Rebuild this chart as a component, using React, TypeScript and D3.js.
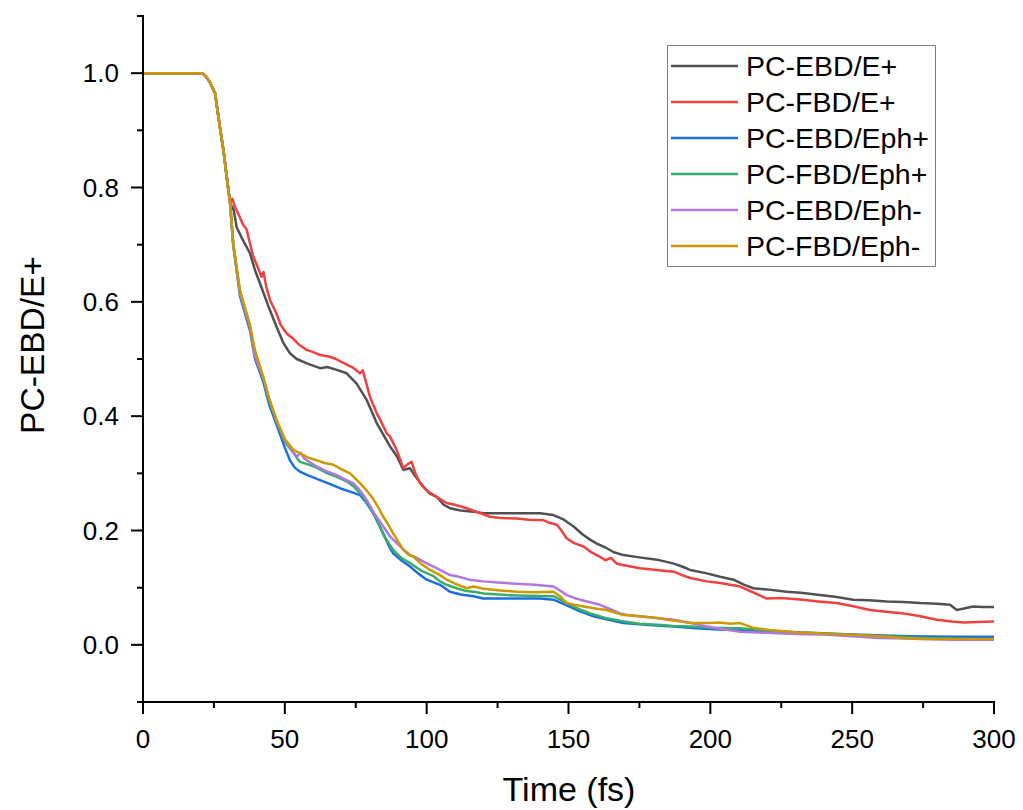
import React from "react";
import * as d3 from "d3";

const seriesNames = ["PC-EBD/E+", "PC-FBD/E+", "PC-EBD/Eph+", "PC-FBD/Eph+", "PC-EBD/Eph-", "PC-FBD/Eph-"];
const seriesColors = ["#515151", "#F14040", "#1A6FDF", "#37AD6B", "#B177DE", "#CC9900"];

const xTicks = [0, 50, 100, 150, 200, 250, 300];
const yTicks = [0.0, 0.2, 0.4, 0.6, 0.8, 1.0];

const commonStart: [number, number][] = [
  [0, 1], [21, 1], [22, 0.995], [23.5, 0.985], [25.4, 0.965], [27.1, 0.906], [28.5, 0.86], [29.5, 0.819], [30.7, 0.773],
];

const blackData: [number, number][] = [
  [32, 0.76], [33, 0.731], [35, 0.71], [37.7, 0.685], [39.5, 0.655], [41.2, 0.633], [44, 0.595], [47.1, 0.556], [49.5, 0.528],
  [51.8, 0.51], [54.2, 0.5], [58, 0.492], [62.4, 0.484], [65, 0.486], [68.3, 0.481], [71.8, 0.475], [75.3, 0.457], [78.9, 0.428],
  [82.4, 0.388], [85, 0.365], [87.1, 0.347], [89.5, 0.33], [91.8, 0.306], [94.1, 0.309], [96, 0.295], [98.8, 0.277], [101, 0.265],
  [103.5, 0.259], [106, 0.245], [108.2, 0.239], [112, 0.235], [116.5, 0.233], [120, 0.23], [130, 0.23], [140, 0.23], [144.7, 0.227],
  [148, 0.22], [151.8, 0.207], [155, 0.193], [157.6, 0.184], [160, 0.177], [163.5, 0.169], [166, 0.162], [169.4, 0.157], [175, 0.153],
  [181.2, 0.149], [187.1, 0.142], [190, 0.137], [192.9, 0.131], [198.8, 0.125], [203.4, 0.119], [208.2, 0.114], [212, 0.105],
  [215.1, 0.099], [220, 0.097], [226.9, 0.093], [232, 0.091], [238.6, 0.087], [244, 0.084], [250.4, 0.079], [256, 0.078],
  [262.2, 0.076], [268, 0.075], [273.9, 0.073], [280, 0.072], [284.5, 0.07], [286.9, 0.061], [289, 0.063], [292.7, 0.067],
  [296, 0.066], [300, 0.066],
];

const redData: [number, number][] = [
  [31.5, 0.78], [32.5, 0.765], [33.5, 0.755], [35.3, 0.735], [36.5, 0.727], [38.8, 0.68], [40.5, 0.66], [41.8, 0.644], [42.5, 0.652],
  [43.5, 0.625], [44.8, 0.603], [47, 0.58], [48.5, 0.56], [50.6, 0.545], [53, 0.535], [55, 0.525], [57.7, 0.516], [60, 0.512],
  [62.4, 0.507], [65.9, 0.504], [68, 0.5], [71.8, 0.49], [74, 0.485], [76.5, 0.475], [77.5, 0.48], [80, 0.434], [82.4, 0.405],
  [84, 0.39], [85.9, 0.37], [87, 0.365], [89.4, 0.341], [91.8, 0.309], [93, 0.315], [94.7, 0.32], [96, 0.3], [97.6, 0.283],
  [100, 0.27], [103.5, 0.259], [107, 0.248], [110, 0.245], [114.1, 0.239], [118, 0.232], [122.3, 0.224], [126, 0.222],
  [131.7, 0.221], [136, 0.219], [141.1, 0.218], [143.5, 0.213], [145.9, 0.21], [147.5, 0.2], [149.4, 0.186], [152, 0.178],
  [155.3, 0.172], [158, 0.162], [161.1, 0.154], [163, 0.148], [165, 0.152], [167, 0.142], [171, 0.138], [175.2, 0.134],
  [181, 0.131], [187.1, 0.128], [190, 0.122], [192.9, 0.117], [198.8, 0.111], [203.4, 0.108], [207, 0.105], [210.5, 0.102],
  [215, 0.092], [219.8, 0.081], [225, 0.082], [232.7, 0.079], [238, 0.076], [244.5, 0.073], [250, 0.068], [256.3, 0.061],
  [262, 0.058], [268.1, 0.055], [274, 0.05], [279.9, 0.044], [285, 0.041], [289.3, 0.039], [294, 0.04], [300, 0.041],
];

const blueData: [number, number][] = [
  [31.8, 0.7], [34.2, 0.61], [37.7, 0.55], [39.5, 0.5], [42.4, 0.46], [44.5, 0.42], [47.1, 0.385], [50, 0.345], [51.8, 0.323],
  [53.5, 0.31], [55.3, 0.303], [58, 0.297], [62.4, 0.288], [66, 0.281], [69.4, 0.274], [73, 0.268], [76.5, 0.262], [78.5, 0.25],
  [81.2, 0.23], [84.7, 0.195], [86.5, 0.175], [88.2, 0.16], [91, 0.148], [94.1, 0.137], [97, 0.125], [100, 0.114], [104.7, 0.105],
  [108.2, 0.093], [112, 0.088], [116.5, 0.085], [120, 0.081], [130, 0.081], [140, 0.081], [144.7, 0.079], [148, 0.072],
  [152.9, 0.061], [156, 0.055], [158.8, 0.05], [163, 0.045], [169.4, 0.038], [175, 0.036], [181, 0.034], [187.1, 0.032],
  [195, 0.029], [203, 0.027], [210.5, 0.026], [220, 0.024], [235, 0.021], [250, 0.018], [270, 0.015], [285, 0.014], [300, 0.014],
];

const greenData: [number, number][] = [
  [31.8, 0.702], [34.2, 0.615], [37.7, 0.556], [39.5, 0.505], [42.4, 0.466], [44.5, 0.428], [47.1, 0.39], [50, 0.355], [53, 0.336],
  [55.3, 0.32], [58, 0.316], [61.2, 0.31], [65, 0.3], [68.3, 0.294], [71.8, 0.286], [74.5, 0.276], [77.7, 0.259], [80, 0.24],
  [82.4, 0.219], [85, 0.19], [88.2, 0.166], [91, 0.152], [94.1, 0.143], [98, 0.13], [102.4, 0.12], [104.7, 0.111], [107, 0.105],
  [110.6, 0.099], [114, 0.094], [116.5, 0.093], [120, 0.09], [128.3, 0.087], [136, 0.086], [144.7, 0.085], [148, 0.077],
  [151.8, 0.067], [155, 0.06], [157.6, 0.055], [163, 0.047], [169.4, 0.041], [175, 0.037], [181.2, 0.035], [187, 0.033],
  [192.9, 0.032], [200, 0.03], [210.5, 0.029], [220, 0.025], [235, 0.02], [250, 0.017], [265, 0.014], [280, 0.011], [300, 0.009],
];

const purpleData: [number, number][] = [
  [31.8, 0.7], [34.2, 0.615], [37.7, 0.556], [39.5, 0.505], [42.4, 0.467], [44.5, 0.43], [47.1, 0.392], [50, 0.358], [52.5, 0.34],
  [54.2, 0.329], [55.5, 0.336], [57, 0.325], [61.2, 0.312], [64, 0.305], [68.3, 0.297], [71, 0.29], [74.1, 0.283], [76.5, 0.27],
  [78.9, 0.253], [81.5, 0.23], [84.7, 0.207], [87, 0.19], [89.4, 0.178], [92, 0.166], [94, 0.158], [96.5, 0.152], [99, 0.145],
  [102.4, 0.137], [104.7, 0.131], [108.2, 0.122], [110.6, 0.12], [115, 0.114], [120, 0.111], [125, 0.109], [131.7, 0.107],
  [138, 0.105], [144.7, 0.102], [147, 0.095], [149.4, 0.087], [152, 0.082], [154.1, 0.079], [158, 0.074], [161.1, 0.07],
  [164, 0.064], [168.2, 0.055], [171, 0.052], [175.2, 0.05], [181, 0.047], [187.1, 0.044], [193, 0.038], [198.8, 0.032],
  [203.4, 0.028], [210.5, 0.023], [220, 0.021], [230, 0.019], [240, 0.018], [250, 0.015], [260, 0.012], [270, 0.011],
  [285, 0.009], [300, 0.009],
];

const goldData: [number, number][] = [
  [31.8, 0.702], [34.2, 0.62], [37.7, 0.56], [39.5, 0.515], [42.4, 0.469], [44.5, 0.43], [47.1, 0.393], [50, 0.36], [53, 0.341],
  [55, 0.336], [58, 0.328], [61.2, 0.323], [64, 0.318], [67.1, 0.315], [70, 0.307], [73, 0.3], [76.5, 0.283], [78.5, 0.272],
  [81.2, 0.255], [83, 0.24], [84.7, 0.224], [86.5, 0.21], [88.2, 0.195], [90, 0.18], [91.8, 0.166], [93.5, 0.158], [95.3, 0.154],
  [98, 0.142], [101.2, 0.131], [104.7, 0.122], [107.1, 0.114], [110, 0.107], [114.1, 0.099], [116.5, 0.102], [120, 0.098],
  [125.9, 0.095], [132, 0.093], [138, 0.092], [144.7, 0.093], [147, 0.085], [149.4, 0.073], [152, 0.07], [155.3, 0.067],
  [160, 0.063], [163.5, 0.061], [166, 0.057], [169.4, 0.052], [175, 0.05], [181.2, 0.047], [185, 0.044], [189.5, 0.041],
  [193.9, 0.038], [200, 0.038], [203.4, 0.039], [207, 0.037], [210.5, 0.038], [215, 0.03], [221, 0.026], [230, 0.022],
  [240, 0.02], [250.4, 0.017], [260, 0.015], [268, 0.012], [273.9, 0.01], [285, 0.01], [300, 0.01],
];

const seriesData = [blackData, redData, blueData, greenData, purpleData, goldData];

const FONT = "'Liberation Sans', Arial, sans-serif";

export default function App() {
  const W = 1023, H = 810;
  const x0 = 143, x1 = 994, yTop = 16, yBot = 702;
  const x = d3.scaleLinear().domain([0, 300]).range([x0, x1]);
  const y = d3.scaleLinear().domain([-0.1, 1.1]).range([yBot, yTop]);
  const line = d3.line<[number, number]>().x((d) => x(d[0])).y((d) => y(d[1]));
  const xMinor = d3.range(25, 300, 50);
  const yMinor = [-0.1, 0.1, 0.3, 0.5, 0.7, 0.9, 1.1];

  return (
    <svg width={W} height={H} style={{ position: "absolute", left: 0, top: 0, background: "#fff" }}>
      <rect x={0} y={0} width={W} height={H} fill="#fff" />
      <defs>
        <clipPath id="plotclip">
          <rect x={x0} y={yTop} width={x1 - x0} height={yBot - yTop} />
        </clipPath>
      </defs>
      <g clipPath="url(#plotclip)">
        {seriesData.map((d, i) => (
          <path key={i} d={line([...commonStart, ...d]) || ""} fill="none" stroke={seriesColors[i]} strokeWidth={2.5} strokeLinejoin="round" />
        ))}
      </g>
      <line x1={x0} x2={x0} y1={yTop - 1} y2={yBot + 1} stroke="#000" strokeWidth={2} />
      <line x1={x0 - 1} x2={x1 + 1} y1={yBot} y2={yBot} stroke="#000" strokeWidth={2} />
      {xTicks.map((t) => (
        <g key={"xt" + t}>
          <line x1={x(t)} x2={x(t)} y1={yBot} y2={yBot + 12} stroke="#000" strokeWidth={2} />
          <text x={x(t)} y={yBot + 46} textAnchor="middle" fontFamily={FONT} fontSize={26} fill="#000">{t}</text>
        </g>
      ))}
      {xMinor.map((t) => (
        <line key={"xm" + t} x1={x(t)} x2={x(t)} y1={yBot} y2={yBot + 6} stroke="#000" strokeWidth={2} />
      ))}
      {yTicks.map((t) => (
        <g key={"yt" + t}>
          <line x1={x0 - 12} x2={x0} y1={y(t)} y2={y(t)} stroke="#000" strokeWidth={2} />
          <text x={x0 - 24} y={y(t) + 9} textAnchor="end" fontFamily={FONT} fontSize={26} fill="#000">{t.toFixed(1)}</text>
        </g>
      ))}
      {yMinor.map((t) => (
        <line key={"ym" + t} x1={x0 - 6} x2={x0} y1={y(t)} y2={y(t)} stroke="#000" strokeWidth={2} />
      ))}
      <text x={569} y={801} textAnchor="middle" fontFamily={FONT} fontSize={34} fill="#000">Time (fs)</text>
      <text transform={`translate(44,345) rotate(-90)`} textAnchor="middle" fontFamily={FONT} fontSize={33.5} fill="#000">PC-EBD/E+</text>
      <rect x={667.5} y={45.5} width={268} height={221} fill="#fff" stroke="#808080" strokeWidth={1} />
      {seriesNames.map((n, i) => (
        <g key={"lg" + i}>
          <line x1={671} x2={738} y1={66 + 36 * i} y2={66 + 36 * i} stroke={seriesColors[i]} strokeWidth={2.5} />
          <text x={746} y={66 + 36 * i + 10} fontFamily={FONT} fontSize={28.5} fill="#000">{n}</text>
        </g>
      ))}
    </svg>
  );
}
